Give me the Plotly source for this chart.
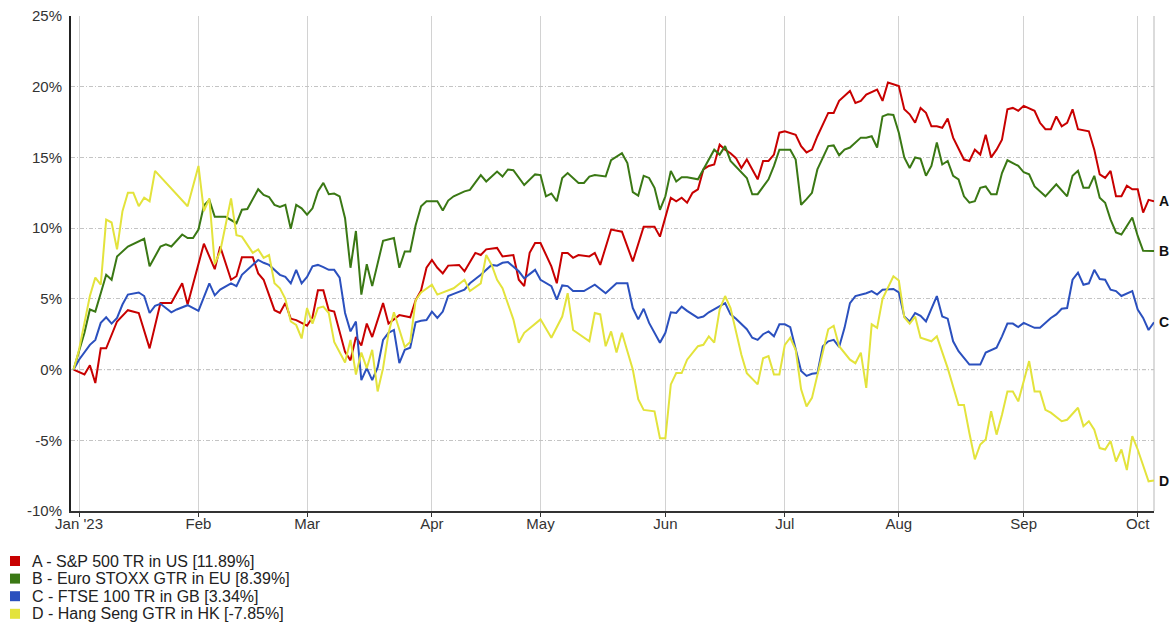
import pandas as pd
import plotly.graph_objects as go

# ---------------- data ----------------
start_date = "2022-12-30"
end_date = "2023-10-05"
month_labels = ["Jan '23", "Feb", "Mar", "Apr", "May", "Jun", "Jul", "Aug", "Sep", "Oct"]
y_ticks = [-10, -5, 0, 5, 10, 15, 20, 25]
y_labels = ["-10%", "-5%", "0%", "5%", "10%", "15%", "20%", "25%"]

names = ["A - S&P 500 TR in US [11.89%]", "B - Euro STOXX GTR in EU [8.39%]",
         "C - FTSE 100 TR in GB [3.34%]", "D - Hang Seng GTR in HK [-7.85%]"]
tags = ["A", "B", "C", "D"]
colors = ["#c80000", "#3a7814", "#2b50be", "#e3e33c"]

# trading-day index (0 = 2022-12-30) and cumulative return in %
sp_day = [0,2,3,4,5,6,8,10,12,14,16,18,20,21,24,26,27,29,30,31,33,34,35,37,38,39,40,41,43,44,
          45,46,47,48,50,51,52,53,54,55,57,58,60,61,62,63,64,65,66,67,68,69,71,72,74,75,76,78,79,81,
          82,83,84,85,86,88,89,90,91,92,93,95,96,97,99,101,102,103,105,107,108,110,111,112,113,114,115,116,117,118,
          119,120,121,122,123,124,126,127,128,129,130,131,133,134,135,136,137,139,140,141,143,144,145,146,148,149,150,151,152,153,
          154,155,156,157,158,159,160,161,162,164,165,166,167,168,169,170,171,172,173,174,175,177,178,179,180,181,182,183,184,185,
          187,188,189,190,191,192,193,194,195,196,197,198,199]
sp_val = [0,-0.35,0.3,-0.95,1.5,1.5,3.4,4.2,4.0,1.5,4.7,4.7,6.1,4.6,8.9,7.1,8.7,6.35,6.6,7.95,
          7.95,6.8,6.35,4.2,4.0,4.7,3.6,3.5,3.1,3.7,5.6,5.6,4.2,4.1,1.25,0.65,2.3,1.7,3.25,2.3,
          4.7,3.25,3.85,3.75,3.7,4.9,5.6,7.2,7.75,7.2,6.8,7.35,7.4,6.95,8.25,8.1,8.5,8.6,8.0,8.1,
          6.35,5.9,8.25,8.95,8.95,7.3,6.1,8.25,8.25,7.9,8.1,8.0,8.25,7.4,9.9,9.75,8.7,7.65,10.1,10.1,
          9.4,12.15,11.9,12.15,11.8,12.5,12.75,14.15,14.4,14.5,15.9,15.55,15.3,14.95,14.25,14.85,13.45,14.75,14.75,15.2,
          16.75,16.85,16.6,15.8,15.35,15.55,16.5,18.15,18.15,19.0,19.7,18.85,19.0,19.45,19.8,19.0,20.3,20.2,20.05,18.4,
          18.05,17.45,18.5,18.15,17.2,17.2,17.1,17.75,16.4,14.85,14.75,15.55,15.2,16.6,15.0,15.55,16.25,18.4,18.5,18.3,
          18.65,18.3,17.45,17.0,17.0,17.9,17.2,17.45,18.4,17.0,16.85,15.55,13.8,13.55,14.05,12.25,12.25,13.0,12.75,12.75,
          11.1,12.0,11.89]

eu_day = [0,1,2,3,4,5,6,7,8,10,12,13,14,16,17,18,20,21,22,23,24,25,26,28,30,31,32,34,35,36,
          37,38,39,40,41,42,43,44,45,46,47,48,49,50,51,52,53,54,55,57,59,60,61,62,63,64,65,67,68,69,
          70,72,73,75,76,78,79,80,81,83,85,86,87,88,89,90,91,93,94,95,96,98,99,101,102,103,104,105,106,107,
          108,109,110,111,112,113,115,117,118,119,120,121,123,124,125,126,128,129,130,132,
          133,134,135,136,137,139,140,141,142,143,145,146,147,148,149,150,151,152,153,154,
          155,156,157,158,159,160,161,162,163,164,165,166,167,168,169,170,171,172,174,175,
          176,177,179,181,183,184,185,186,187,188,189,190,191,192,193,195,196,197,199]
eu_val = [0,1.4,2.6,4.25,4.1,5.4,6.7,6.35,8.0,8.7,9.1,9.25,7.3,8.7,8.85,8.7,9.55,9.3,9.3,9.9,
          11.6,12.0,10.8,10.8,10.35,11.3,11.35,12.75,12.35,12.2,11.65,11.5,11.65,9.95,11.65,11.4,10.95,11.4,12.6,13.2,
          12.4,12.45,12.25,10.7,7.2,9.8,5.3,7.45,5.9,9.1,9.3,7.2,8.35,8.35,10.2,11.55,11.9,11.9,11.25,11.95,
          12.25,12.6,12.7,13.75,13.3,14.0,13.65,14.15,14.1,13.05,13.8,13.75,12.25,12.45,11.9,13.55,13.9,13.2,13.2,13.65,
          13.75,13.65,14.8,15.3,14.6,12.55,12.3,13.7,13.55,12.85,11.3,12.25,14.05,13.3,13.6,13.6,13.45,14.85,15.55,15.2,
          15.8,14.75,13.9,13.55,12.4,12.4,13.45,14.4,15.55,15.55,
          14.85,11.65,12.05,12.5,14.15,15.8,15.85,15.15,15.55,15.7,16.4,16.4,16.5,15.7,17.9,18.05,18.0,16.75,15.0,14.25,
          15.0,14.9,13.7,14.4,16.05,14.5,14.75,13.7,13.45,12.25,11.8,11.9,12.85,12.95,12.4,12.4,13.9,14.8,14.4,13.95,
          13.8,12.95,12.25,13.1,12.25,13.7,14.05,12.85,12.85,13.7,12.15,11.8,10.6,9.7,9.55,10.75,9.45,8.4,8.39]

gb_day = [0,1,3,4,5,6,7,8,9,10,12,13,14,15,16,18,19,21,23,25,26,27,29,30,31,34,35,36,38,39,
          40,41,42,43,44,45,46,47,48,49,50,51,52,53,54,55,56,57,58,59,60,61,62,63,64,65,66,67,68,69,
          70,72,73,75,77,78,79,80,82,83,85,86,88,89,90,91,92,94,96,98,
          100,102,103,104,105,106,108,109,110,111,112,113,115,116,117,119,120,121,122,124,
          125,126,127,128,129,130,131,132,133,134,135,136,137,138,139,140,141,142,143,144,
          146,147,148,149,151,152,153,154,155,156,157,159,160,161,162,163,165,167,168,169,
          170,171,172,173,174,175,177,178,180,181,182,183,184,185,186,187,188,189,190,191,
          192,193,194,195,196,197,198,199]
gb_val = [0,0.7,1.75,2.1,3.3,3.7,3.25,3.65,4.6,5.3,5.45,5.2,4.0,4.5,4.65,4.05,4.25,4.55,4.15,6.1,
          5.25,5.65,6.1,5.9,6.7,7.75,7.55,7.4,6.7,6.55,6.1,7.05,6.1,6.55,7.3,7.4,7.25,7.05,7.05,6.5,
          4.0,2.7,3.4,-0.75,0.1,-0.75,0.15,2.1,2.6,2.8,0.45,1.4,1.55,3.35,3.45,3.5,4.1,3.65,4.1,5.2,
          5.35,5.65,6.1,6.7,7.4,7.35,7.55,7.6,6.95,6.45,7.05,6.35,5.9,4.95,5.95,5.9,5.55,5.55,6.0,5.4,
          6.1,6.1,4.35,3.55,4.3,3.3,1.9,2.6,4.05,4.0,4.45,4.15,3.65,3.75,4.05,4.5,4.7,3.9,3.6,2.85,
          2.25,2.1,2.5,2.7,2.35,3.2,3.2,3.0,1.4,-0.1,-0.45,-0.3,-0.25,1.65,2.0,2.1,1.6,2.95,4.7,5.2,
          5.4,5.55,5.3,5.65,5.7,5.45,3.75,3.4,4.0,3.8,3.4,5.2,3.75,3.6,2.0,1.3,0.35,0.35,1.2,1.4,
          1.55,2.35,3.25,3.25,3.0,3.3,2.95,2.95,3.65,3.9,4.3,4.35,6.35,6.85,6.0,6.1,7.05,6.4,6.35,5.65,
          5.55,5.2,5.4,5.55,4.25,3.65,2.8,3.34]

hk_day = [0,1,2,3,4,5,6,7,8,9,10,11,12,13,14,15,21,23,24,25,26,27,29,30,31,33,34,35,36,37,
          38,39,40,41,42,43,44,45,46,47,48,50,51,52,53,54,55,56,57,58,59,60,61,62,63,64,66,67,70,72,
          73,75,76,77,78,79,81,82,83,86,88,90,91,92,95,96,97,98,99,100,
          101,102,103,104,105,107,108,109,110,111,112,113,115,116,117,118,119,120,121,123,
          124,126,127,128,129,130,131,132,133,134,135,136,137,139,140,141,143,144,145,146,
          147,148,149,151,152,153,154,155,156,158,159,161,163,164,165,166,167,168,169,170,
          171,172,173,174,176,177,178,179,180,182,183,185,186,187,188,189,190,191,192,193,
          194,195,196,198,199]
hk_val = [0,1.4,3.3,5.2,6.5,6.0,10.6,10.4,8.5,11.2,12.5,12.5,11.55,12.15,11.9,14.05,11.55,14.4,11.2,12.1,
          7.45,8.35,12.1,9.5,9.4,8.25,8.5,7.9,8.1,6.1,5.75,5.0,3.4,3.15,2.2,4.35,3.25,4.35,4.45,4.0,
          1.95,0.5,2.1,-0.35,1.2,0.1,1.4,-1.55,0.1,2.55,4.05,2.9,1.6,1.95,4.9,5.45,6.0,5.3,5.75,6.35,
          5.55,6.1,8.1,7.4,6.35,5.75,3.55,1.9,2.6,3.55,2.25,3.75,5.4,2.8,2.0,4.0,3.9,1.65,2.7,1.2,
          2.6,1.3,0.0,-2.1,-2.85,-2.95,-4.85,-4.85,-1.05,-0.25,-0.25,0.7,1.65,1.75,2.35,1.9,4.25,5.2,4.35,1.05,
          -0.25,-1.05,0.8,0.95,-0.35,-0.35,1.75,2.25,1.4,-1.4,-2.6,-2.0,-0.45,2.85,3.1,1.65,0.7,0.45,1.2,-1.3,
          3.2,2.95,5.0,6.6,6.3,3.7,3.25,3.75,2.25,2.0,2.35,0.1,-2.5,-2.5,-4.5,-6.35,-5.3,-4.95,-2.95,-4.6,
          -3.2,-1.55,-1.55,-2.25,0.6,-1.55,-1.55,-2.85,-3.05,-3.65,-3.55,-2.7,-4.0,-3.65,-4.25,-5.55,-5.65,-5.05,-6.5,-5.65,
          -7.1,-4.7,-5.65,-7.9,-7.85]

series_days = [sp_day, eu_day, gb_day, hk_day]
series_vals = [sp_val, eu_val, gb_val, hk_val]

# ---------------- figure ----------------
W, H = 1172, 622
ML, MR, MT, MB = 71, 18, 16, 111
PW, PH = W - ML - MR, H - MT - MB

trading_days = pd.bdate_range(start_date, end_date)
tickvals = [i for i in range(1, len(trading_days))
            if trading_days[i].month != trading_days[i - 1].month]

FONT = "Liberation Sans, Arial, sans-serif"
fig = go.Figure()

for name, col, d, v in zip(names, colors, series_days, series_vals):
    fig.add_trace(go.Scatter(
        x=d, y=v, mode="lines", name=name,
        line=dict(color=col, width=2),
        customdata=[trading_days[i].strftime("%d %b %Y") for i in d],
        hovertemplate="%{customdata}: %{y:.2f}%<extra>" + name + "</extra>",
        showlegend=False))

annotations = []
for tag, d, v in zip(tags, series_days, series_vals):
    annotations.append(dict(x=d[-1], y=v[-1], xref="x", yref="y", text="<b>" + tag + "</b>",
                            showarrow=False, xanchor="left", yanchor="middle", xshift=3,
                            font=dict(family=FONT, size=14, color="#111")))

# legend (custom, compact rows)
shapes = []
row0, row_step = 561, 17.6
for k, (name, col) in enumerate(zip(names, colors)):
    cy = row0 + k * row_step
    shapes.append(dict(type="rect", xref="paper", yref="paper",
                       x0=(10 - ML) / PW, x1=(20 - ML) / PW,
                       y0=(H - MB - (cy + 5)) / PH, y1=(H - MB - (cy - 5)) / PH,
                       fillcolor=col, line=dict(width=0)))
    annotations.append(dict(x=(30 - ML) / PW, y=(H - MB - cy) / PH, xref="paper", yref="paper",
                            text=name, showarrow=False, xanchor="left", yanchor="middle",
                            font=dict(family=FONT, size=16, color="#222")))

# zero line and right border
shapes.append(dict(type="line", xref="paper", yref="y", x0=0, x1=1, y0=0, y1=0,
                   line=dict(color="#333", width=1, dash="4px,2px,1px,2px"), layer="between"))
shapes.append(dict(type="line", xref="paper", yref="paper", x0=1, x1=1, y0=0, y1=1,
                   line=dict(color="#cfcfcf", width=1.5), layer="below"))

fig.update_layout(
    width=W, height=H,
    margin=dict(l=ML, r=MR, t=MT, b=MB, autoexpand=False),
    paper_bgcolor="white", plot_bgcolor="white",
    font=dict(family=FONT, size=15, color="#333"),
    showlegend=False,
    annotations=annotations, shapes=shapes,
    xaxis=dict(range=[-0.48, 199.0], tickvals=tickvals, ticktext=month_labels,
               showgrid=True, gridcolor="#d2d2d2", gridwidth=1,
               showline=True, linecolor="#333", linewidth=2,
               ticks="outside", ticklen=4, tickcolor="#333", tickwidth=1,
               ticklabelstandoff=-6,
               tickfont=dict(family=FONT, size=15, color="#333"), zeroline=False),
    yaxis=dict(range=[-10, 25], tickvals=y_ticks, ticktext=y_labels,
               showgrid=True, gridcolor="#c4c4c4", gridwidth=1, griddash="4px,2px,1px,2px",
               showline=True, linecolor="#222", linewidth=2,
               ticks="outside", ticklen=4, tickcolor="rgba(0,0,0,0)",
               tickfont=dict(family=FONT, size=15, color="#333"), zeroline=False),
)

fig.write_html("out.html")
